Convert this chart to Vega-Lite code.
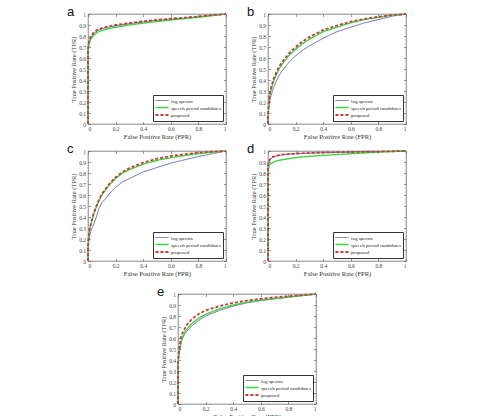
{
  "$schema": "https://vega.github.io/schema/vega-lite/v6.json",
  "padding": {"left": 66, "top": 6, "right": 0, "bottom": 0},
  "background": "white",
  "data": {"values": [
    {"panel":"a","series":"log spectra","fpr":0,"tpr":0},{"panel":"a","series":"log spectra","fpr":0,"tpr":0.66},{"panel":"a","series":"log spectra","fpr":0.004,"tpr":0.72},{"panel":"a","series":"log spectra","fpr":0.01,"tpr":0.755},{"panel":"a","series":"log spectra","fpr":0.02,"tpr":0.785},{"panel":"a","series":"log spectra","fpr":0.04,"tpr":0.82},{"panel":"a","series":"log spectra","fpr":0.07,"tpr":0.85},{"panel":"a","series":"log spectra","fpr":0.1,"tpr":0.865},{"panel":"a","series":"log spectra","fpr":0.15,"tpr":0.88},{"panel":"a","series":"log spectra","fpr":0.2,"tpr":0.893},{"panel":"a","series":"log spectra","fpr":0.3,"tpr":0.912},{"panel":"a","series":"log spectra","fpr":0.4,"tpr":0.928},{"panel":"a","series":"log spectra","fpr":0.5,"tpr":0.942},{"panel":"a","series":"log spectra","fpr":0.6,"tpr":0.953},{"panel":"a","series":"log spectra","fpr":0.7,"tpr":0.963},{"panel":"a","series":"log spectra","fpr":0.8,"tpr":0.975},{"panel":"a","series":"log spectra","fpr":0.9,"tpr":0.988},{"panel":"a","series":"log spectra","fpr":1,"tpr":1},
    {"panel":"a","series":"speech period candidates","fpr":0,"tpr":0},{"panel":"a","series":"speech period candidates","fpr":0,"tpr":0.64},{"panel":"a","series":"speech period candidates","fpr":0.004,"tpr":0.7},{"panel":"a","series":"speech period candidates","fpr":0.01,"tpr":0.74},{"panel":"a","series":"speech period candidates","fpr":0.02,"tpr":0.77},{"panel":"a","series":"speech period candidates","fpr":0.04,"tpr":0.805},{"panel":"a","series":"speech period candidates","fpr":0.07,"tpr":0.835},{"panel":"a","series":"speech period candidates","fpr":0.1,"tpr":0.85},{"panel":"a","series":"speech period candidates","fpr":0.15,"tpr":0.868},{"panel":"a","series":"speech period candidates","fpr":0.2,"tpr":0.88},{"panel":"a","series":"speech period candidates","fpr":0.3,"tpr":0.9},{"panel":"a","series":"speech period candidates","fpr":0.4,"tpr":0.917},{"panel":"a","series":"speech period candidates","fpr":0.5,"tpr":0.932},{"panel":"a","series":"speech period candidates","fpr":0.6,"tpr":0.945},{"panel":"a","series":"speech period candidates","fpr":0.7,"tpr":0.958},{"panel":"a","series":"speech period candidates","fpr":0.8,"tpr":0.97},{"panel":"a","series":"speech period candidates","fpr":0.9,"tpr":0.985},{"panel":"a","series":"speech period candidates","fpr":1,"tpr":1},
    {"panel":"a","series":"proposed","fpr":0,"tpr":0},{"panel":"a","series":"proposed","fpr":0,"tpr":0.67},{"panel":"a","series":"proposed","fpr":0.004,"tpr":0.73},{"panel":"a","series":"proposed","fpr":0.01,"tpr":0.765},{"panel":"a","series":"proposed","fpr":0.02,"tpr":0.795},{"panel":"a","series":"proposed","fpr":0.04,"tpr":0.83},{"panel":"a","series":"proposed","fpr":0.07,"tpr":0.858},{"panel":"a","series":"proposed","fpr":0.1,"tpr":0.872},{"panel":"a","series":"proposed","fpr":0.15,"tpr":0.888},{"panel":"a","series":"proposed","fpr":0.2,"tpr":0.9},{"panel":"a","series":"proposed","fpr":0.3,"tpr":0.918},{"panel":"a","series":"proposed","fpr":0.4,"tpr":0.933},{"panel":"a","series":"proposed","fpr":0.5,"tpr":0.946},{"panel":"a","series":"proposed","fpr":0.6,"tpr":0.957},{"panel":"a","series":"proposed","fpr":0.7,"tpr":0.967},{"panel":"a","series":"proposed","fpr":0.8,"tpr":0.978},{"panel":"a","series":"proposed","fpr":0.9,"tpr":0.99},{"panel":"a","series":"proposed","fpr":1,"tpr":1},

    {"panel":"b","series":"log spectra","fpr":0,"tpr":0},{"panel":"b","series":"log spectra","fpr":0,"tpr":0.05},{"panel":"b","series":"log spectra","fpr":0.005,"tpr":0.14},{"panel":"b","series":"log spectra","fpr":0.01,"tpr":0.19},{"panel":"b","series":"log spectra","fpr":0.02,"tpr":0.25},{"panel":"b","series":"log spectra","fpr":0.04,"tpr":0.33},{"panel":"b","series":"log spectra","fpr":0.06,"tpr":0.39},{"panel":"b","series":"log spectra","fpr":0.08,"tpr":0.44},{"panel":"b","series":"log spectra","fpr":0.1,"tpr":0.48},{"panel":"b","series":"log spectra","fpr":0.15,"tpr":0.56},{"panel":"b","series":"log spectra","fpr":0.2,"tpr":0.62},{"panel":"b","series":"log spectra","fpr":0.25,"tpr":0.67},{"panel":"b","series":"log spectra","fpr":0.3,"tpr":0.71},{"panel":"b","series":"log spectra","fpr":0.4,"tpr":0.78},{"panel":"b","series":"log spectra","fpr":0.5,"tpr":0.84},{"panel":"b","series":"log spectra","fpr":0.6,"tpr":0.88},{"panel":"b","series":"log spectra","fpr":0.7,"tpr":0.92},{"panel":"b","series":"log spectra","fpr":0.8,"tpr":0.95},{"panel":"b","series":"log spectra","fpr":0.9,"tpr":0.98},{"panel":"b","series":"log spectra","fpr":1,"tpr":1},
    {"panel":"b","series":"speech period candidates","fpr":0,"tpr":0},{"panel":"b","series":"speech period candidates","fpr":0,"tpr":0.06},{"panel":"b","series":"speech period candidates","fpr":0.005,"tpr":0.17},{"panel":"b","series":"speech period candidates","fpr":0.01,"tpr":0.23},{"panel":"b","series":"speech period candidates","fpr":0.02,"tpr":0.3},{"panel":"b","series":"speech period candidates","fpr":0.04,"tpr":0.39},{"panel":"b","series":"speech period candidates","fpr":0.06,"tpr":0.45},{"panel":"b","series":"speech period candidates","fpr":0.08,"tpr":0.5},{"panel":"b","series":"speech period candidates","fpr":0.1,"tpr":0.54},{"panel":"b","series":"speech period candidates","fpr":0.15,"tpr":0.62},{"panel":"b","series":"speech period candidates","fpr":0.2,"tpr":0.68},{"panel":"b","series":"speech period candidates","fpr":0.25,"tpr":0.73},{"panel":"b","series":"speech period candidates","fpr":0.3,"tpr":0.77},{"panel":"b","series":"speech period candidates","fpr":0.4,"tpr":0.84},{"panel":"b","series":"speech period candidates","fpr":0.5,"tpr":0.88},{"panel":"b","series":"speech period candidates","fpr":0.6,"tpr":0.92},{"panel":"b","series":"speech period candidates","fpr":0.7,"tpr":0.95},{"panel":"b","series":"speech period candidates","fpr":0.8,"tpr":0.97},{"panel":"b","series":"speech period candidates","fpr":0.9,"tpr":0.99},{"panel":"b","series":"speech period candidates","fpr":1,"tpr":1},
    {"panel":"b","series":"proposed","fpr":0,"tpr":0},{"panel":"b","series":"proposed","fpr":0,"tpr":0.07},{"panel":"b","series":"proposed","fpr":0.005,"tpr":0.19},{"panel":"b","series":"proposed","fpr":0.01,"tpr":0.25},{"panel":"b","series":"proposed","fpr":0.02,"tpr":0.32},{"panel":"b","series":"proposed","fpr":0.04,"tpr":0.41},{"panel":"b","series":"proposed","fpr":0.06,"tpr":0.47},{"panel":"b","series":"proposed","fpr":0.08,"tpr":0.52},{"panel":"b","series":"proposed","fpr":0.1,"tpr":0.56},{"panel":"b","series":"proposed","fpr":0.15,"tpr":0.64},{"panel":"b","series":"proposed","fpr":0.2,"tpr":0.7},{"panel":"b","series":"proposed","fpr":0.25,"tpr":0.75},{"panel":"b","series":"proposed","fpr":0.3,"tpr":0.79},{"panel":"b","series":"proposed","fpr":0.4,"tpr":0.855},{"panel":"b","series":"proposed","fpr":0.5,"tpr":0.895},{"panel":"b","series":"proposed","fpr":0.6,"tpr":0.93},{"panel":"b","series":"proposed","fpr":0.7,"tpr":0.955},{"panel":"b","series":"proposed","fpr":0.8,"tpr":0.975},{"panel":"b","series":"proposed","fpr":0.9,"tpr":0.99},{"panel":"b","series":"proposed","fpr":1,"tpr":1},

    {"panel":"c","series":"log spectra","fpr":0,"tpr":0},{"panel":"c","series":"log spectra","fpr":0,"tpr":0.1},{"panel":"c","series":"log spectra","fpr":0.005,"tpr":0.18},{"panel":"c","series":"log spectra","fpr":0.01,"tpr":0.22},{"panel":"c","series":"log spectra","fpr":0.02,"tpr":0.27},{"panel":"c","series":"log spectra","fpr":0.04,"tpr":0.33},{"panel":"c","series":"log spectra","fpr":0.06,"tpr":0.4},{"panel":"c","series":"log spectra","fpr":0.08,"tpr":0.48},{"panel":"c","series":"log spectra","fpr":0.1,"tpr":0.53},{"panel":"c","series":"log spectra","fpr":0.13,"tpr":0.57},{"panel":"c","series":"log spectra","fpr":0.16,"tpr":0.62},{"panel":"c","series":"log spectra","fpr":0.2,"tpr":0.67},{"panel":"c","series":"log spectra","fpr":0.25,"tpr":0.72},{"panel":"c","series":"log spectra","fpr":0.3,"tpr":0.75},{"panel":"c","series":"log spectra","fpr":0.4,"tpr":0.81},{"panel":"c","series":"log spectra","fpr":0.5,"tpr":0.85},{"panel":"c","series":"log spectra","fpr":0.6,"tpr":0.89},{"panel":"c","series":"log spectra","fpr":0.7,"tpr":0.92},{"panel":"c","series":"log spectra","fpr":0.8,"tpr":0.95},{"panel":"c","series":"log spectra","fpr":0.9,"tpr":0.975},{"panel":"c","series":"log spectra","fpr":1,"tpr":1},
    {"panel":"c","series":"speech period candidates","fpr":0,"tpr":0},{"panel":"c","series":"speech period candidates","fpr":0,"tpr":0.12},{"panel":"c","series":"speech period candidates","fpr":0.005,"tpr":0.22},{"panel":"c","series":"speech period candidates","fpr":0.01,"tpr":0.27},{"panel":"c","series":"speech period candidates","fpr":0.02,"tpr":0.33},{"panel":"c","series":"speech period candidates","fpr":0.04,"tpr":0.42},{"panel":"c","series":"speech period candidates","fpr":0.06,"tpr":0.49},{"panel":"c","series":"speech period candidates","fpr":0.08,"tpr":0.55},{"panel":"c","series":"speech period candidates","fpr":0.1,"tpr":0.6},{"panel":"c","series":"speech period candidates","fpr":0.13,"tpr":0.65},{"panel":"c","series":"speech period candidates","fpr":0.16,"tpr":0.7},{"panel":"c","series":"speech period candidates","fpr":0.2,"tpr":0.75},{"panel":"c","series":"speech period candidates","fpr":0.25,"tpr":0.8},{"panel":"c","series":"speech period candidates","fpr":0.3,"tpr":0.83},{"panel":"c","series":"speech period candidates","fpr":0.4,"tpr":0.88},{"panel":"c","series":"speech period candidates","fpr":0.5,"tpr":0.915},{"panel":"c","series":"speech period candidates","fpr":0.6,"tpr":0.94},{"panel":"c","series":"speech period candidates","fpr":0.7,"tpr":0.96},{"panel":"c","series":"speech period candidates","fpr":0.8,"tpr":0.975},{"panel":"c","series":"speech period candidates","fpr":0.9,"tpr":0.99},{"panel":"c","series":"speech period candidates","fpr":1,"tpr":1},
    {"panel":"c","series":"proposed","fpr":0,"tpr":0},{"panel":"c","series":"proposed","fpr":0,"tpr":0.13},{"panel":"c","series":"proposed","fpr":0.005,"tpr":0.23},{"panel":"c","series":"proposed","fpr":0.01,"tpr":0.28},{"panel":"c","series":"proposed","fpr":0.02,"tpr":0.34},{"panel":"c","series":"proposed","fpr":0.04,"tpr":0.43},{"panel":"c","series":"proposed","fpr":0.06,"tpr":0.5},{"panel":"c","series":"proposed","fpr":0.08,"tpr":0.56},{"panel":"c","series":"proposed","fpr":0.1,"tpr":0.61},{"panel":"c","series":"proposed","fpr":0.13,"tpr":0.66},{"panel":"c","series":"proposed","fpr":0.16,"tpr":0.71},{"panel":"c","series":"proposed","fpr":0.2,"tpr":0.76},{"panel":"c","series":"proposed","fpr":0.25,"tpr":0.81},{"panel":"c","series":"proposed","fpr":0.3,"tpr":0.845},{"panel":"c","series":"proposed","fpr":0.4,"tpr":0.895},{"panel":"c","series":"proposed","fpr":0.5,"tpr":0.93},{"panel":"c","series":"proposed","fpr":0.6,"tpr":0.955},{"panel":"c","series":"proposed","fpr":0.7,"tpr":0.97},{"panel":"c","series":"proposed","fpr":0.8,"tpr":0.985},{"panel":"c","series":"proposed","fpr":0.9,"tpr":0.995},{"panel":"c","series":"proposed","fpr":1,"tpr":1},

    {"panel":"d","series":"log spectra","fpr":0,"tpr":0},{"panel":"d","series":"log spectra","fpr":0,"tpr":0.85},{"panel":"d","series":"log spectra","fpr":0.003,"tpr":0.88},{"panel":"d","series":"log spectra","fpr":0.01,"tpr":0.91},{"panel":"d","series":"log spectra","fpr":0.02,"tpr":0.93},{"panel":"d","series":"log spectra","fpr":0.04,"tpr":0.945},{"panel":"d","series":"log spectra","fpr":0.07,"tpr":0.957},{"panel":"d","series":"log spectra","fpr":0.1,"tpr":0.965},{"panel":"d","series":"log spectra","fpr":0.2,"tpr":0.975},{"panel":"d","series":"log spectra","fpr":0.3,"tpr":0.98},{"panel":"d","series":"log spectra","fpr":0.4,"tpr":0.985},{"panel":"d","series":"log spectra","fpr":0.6,"tpr":0.99},{"panel":"d","series":"log spectra","fpr":0.8,"tpr":0.995},{"panel":"d","series":"log spectra","fpr":1,"tpr":1},
    {"panel":"d","series":"speech period candidates","fpr":0,"tpr":0},{"panel":"d","series":"speech period candidates","fpr":0,"tpr":0.8},{"panel":"d","series":"speech period candidates","fpr":0.003,"tpr":0.84},{"panel":"d","series":"speech period candidates","fpr":0.01,"tpr":0.87},{"panel":"d","series":"speech period candidates","fpr":0.02,"tpr":0.885},{"panel":"d","series":"speech period candidates","fpr":0.04,"tpr":0.9},{"panel":"d","series":"speech period candidates","fpr":0.07,"tpr":0.912},{"panel":"d","series":"speech period candidates","fpr":0.1,"tpr":0.92},{"panel":"d","series":"speech period candidates","fpr":0.2,"tpr":0.94},{"panel":"d","series":"speech period candidates","fpr":0.3,"tpr":0.952},{"panel":"d","series":"speech period candidates","fpr":0.4,"tpr":0.96},{"panel":"d","series":"speech period candidates","fpr":0.6,"tpr":0.975},{"panel":"d","series":"speech period candidates","fpr":0.8,"tpr":0.99},{"panel":"d","series":"speech period candidates","fpr":1,"tpr":1},
    {"panel":"d","series":"proposed","fpr":0,"tpr":0},{"panel":"d","series":"proposed","fpr":0,"tpr":0.86},{"panel":"d","series":"proposed","fpr":0.003,"tpr":0.89},{"panel":"d","series":"proposed","fpr":0.01,"tpr":0.915},{"panel":"d","series":"proposed","fpr":0.02,"tpr":0.935},{"panel":"d","series":"proposed","fpr":0.04,"tpr":0.95},{"panel":"d","series":"proposed","fpr":0.07,"tpr":0.96},{"panel":"d","series":"proposed","fpr":0.1,"tpr":0.967},{"panel":"d","series":"proposed","fpr":0.2,"tpr":0.977},{"panel":"d","series":"proposed","fpr":0.3,"tpr":0.982},{"panel":"d","series":"proposed","fpr":0.4,"tpr":0.986},{"panel":"d","series":"proposed","fpr":0.6,"tpr":0.991},{"panel":"d","series":"proposed","fpr":0.8,"tpr":0.995},{"panel":"d","series":"proposed","fpr":1,"tpr":1},

    {"panel":"e","series":"log spectra","fpr":0,"tpr":0},{"panel":"e","series":"log spectra","fpr":0,"tpr":0.35},{"panel":"e","series":"log spectra","fpr":0.005,"tpr":0.42},{"panel":"e","series":"log spectra","fpr":0.01,"tpr":0.47},{"panel":"e","series":"log spectra","fpr":0.02,"tpr":0.54},{"panel":"e","series":"log spectra","fpr":0.03,"tpr":0.59},{"panel":"e","series":"log spectra","fpr":0.05,"tpr":0.64},{"panel":"e","series":"log spectra","fpr":0.07,"tpr":0.67},{"panel":"e","series":"log spectra","fpr":0.1,"tpr":0.71},{"panel":"e","series":"log spectra","fpr":0.15,"tpr":0.76},{"panel":"e","series":"log spectra","fpr":0.2,"tpr":0.8},{"panel":"e","series":"log spectra","fpr":0.3,"tpr":0.85},{"panel":"e","series":"log spectra","fpr":0.4,"tpr":0.89},{"panel":"e","series":"log spectra","fpr":0.5,"tpr":0.92},{"panel":"e","series":"log spectra","fpr":0.6,"tpr":0.94},{"panel":"e","series":"log spectra","fpr":0.7,"tpr":0.955},{"panel":"e","series":"log spectra","fpr":0.8,"tpr":0.97},{"panel":"e","series":"log spectra","fpr":0.9,"tpr":0.985},{"panel":"e","series":"log spectra","fpr":1,"tpr":1},
    {"panel":"e","series":"speech period candidates","fpr":0,"tpr":0},{"panel":"e","series":"speech period candidates","fpr":0,"tpr":0.36},{"panel":"e","series":"speech period candidates","fpr":0.005,"tpr":0.44},{"panel":"e","series":"speech period candidates","fpr":0.01,"tpr":0.49},{"panel":"e","series":"speech period candidates","fpr":0.02,"tpr":0.56},{"panel":"e","series":"speech period candidates","fpr":0.03,"tpr":0.6},{"panel":"e","series":"speech period candidates","fpr":0.05,"tpr":0.655},{"panel":"e","series":"speech period candidates","fpr":0.07,"tpr":0.69},{"panel":"e","series":"speech period candidates","fpr":0.1,"tpr":0.73},{"panel":"e","series":"speech period candidates","fpr":0.15,"tpr":0.78},{"panel":"e","series":"speech period candidates","fpr":0.2,"tpr":0.815},{"panel":"e","series":"speech period candidates","fpr":0.3,"tpr":0.865},{"panel":"e","series":"speech period candidates","fpr":0.4,"tpr":0.9},{"panel":"e","series":"speech period candidates","fpr":0.5,"tpr":0.925},{"panel":"e","series":"speech period candidates","fpr":0.6,"tpr":0.945},{"panel":"e","series":"speech period candidates","fpr":0.7,"tpr":0.96},{"panel":"e","series":"speech period candidates","fpr":0.8,"tpr":0.972},{"panel":"e","series":"speech period candidates","fpr":0.9,"tpr":0.986},{"panel":"e","series":"speech period candidates","fpr":1,"tpr":1},
    {"panel":"e","series":"proposed","fpr":0,"tpr":0},{"panel":"e","series":"proposed","fpr":0,"tpr":0.38},{"panel":"e","series":"proposed","fpr":0.005,"tpr":0.46},{"panel":"e","series":"proposed","fpr":0.01,"tpr":0.52},{"panel":"e","series":"proposed","fpr":0.02,"tpr":0.6},{"panel":"e","series":"proposed","fpr":0.03,"tpr":0.64},{"panel":"e","series":"proposed","fpr":0.05,"tpr":0.69},{"panel":"e","series":"proposed","fpr":0.07,"tpr":0.73},{"panel":"e","series":"proposed","fpr":0.1,"tpr":0.77},{"panel":"e","series":"proposed","fpr":0.15,"tpr":0.82},{"panel":"e","series":"proposed","fpr":0.2,"tpr":0.85},{"panel":"e","series":"proposed","fpr":0.3,"tpr":0.89},{"panel":"e","series":"proposed","fpr":0.4,"tpr":0.92},{"panel":"e","series":"proposed","fpr":0.5,"tpr":0.94},{"panel":"e","series":"proposed","fpr":0.6,"tpr":0.957},{"panel":"e","series":"proposed","fpr":0.7,"tpr":0.97},{"panel":"e","series":"proposed","fpr":0.8,"tpr":0.98},{"panel":"e","series":"proposed","fpr":0.9,"tpr":0.99},{"panel":"e","series":"proposed","fpr":1,"tpr":1}
  ]},
  "vconcat": [
    {
      "vconcat": [
        {
          "hconcat": [
            {
              "width": 138, "height": 110,
              "title": {"text": "a"},
              "transform": [{"filter": "datum.panel === 'a'"}],
              "layer": [
                {"mark": {"type": "line"}, "encoding": {
                  "x": {"field": "fpr", "type": "quantitative", "scale": {"domain": [0, 1]}, "axis": {"orient": "bottom", "title": "False Positive Rate (FPR)", "values": [0, 0.2, 0.4, 0.6, 0.8, 1], "format": "~g"}},
                  "y": {"field": "tpr", "type": "quantitative", "scale": {"domain": [0, 1]}, "axis": {"orient": "left", "title": "True Positive Rate (TPR)", "values": [0, 0.1, 0.2, 0.3, 0.4, 0.5, 0.6, 0.7, 0.8, 0.9, 1], "format": "~g"}},
                  "color": {"field": "series", "type": "nominal", "scale": {"domain": ["log spectra", "speech period candidates", "proposed"], "range": ["#5a5aad", "#3fd23f", "#c43b3b"]}, "legend": {"title": null}},
                  "strokeDash": {"field": "series", "type": "nominal", "scale": {"domain": ["log spectra", "speech period candidates", "proposed"], "range": [[1, 0], [1, 0], [3, 2]]}, "legend": {"title": null}},
                  "strokeWidth": {"field": "series", "type": "nominal", "scale": {"domain": ["log spectra", "speech period candidates", "proposed"], "range": [0.9, 1.8, 1.3]}, "legend": {"title": null}}
                }},
                {"mark": {"type": "point", "opacity": 0}, "encoding": {
                  "x": {"field": "fpr", "type": "quantitative", "scale": {"domain": [0, 1]}, "axis": {"orient": "top", "title": null, "values": [0, 0.2, 0.4, 0.6, 0.8, 1]}},
                  "y": {"field": "tpr", "type": "quantitative", "scale": {"domain": [0, 1]}, "axis": {"orient": "right", "title": null, "values": [0, 0.1, 0.2, 0.3, 0.4, 0.5, 0.6, 0.7, 0.8, 0.9, 1]}}
                }}
              ],
              "resolve": {"axis": {"x": "independent", "y": "independent"}}
            },
            {
              "width": 138, "height": 110,
              "title": {"text": "b"},
              "transform": [{"filter": "datum.panel === 'b'"}],
              "layer": [
                {"mark": {"type": "line"}, "encoding": {
                  "x": {"field": "fpr", "type": "quantitative", "scale": {"domain": [0, 1]}, "axis": {"orient": "bottom", "title": "False Positive Rate (FPR)", "values": [0, 0.2, 0.4, 0.6, 0.8, 1], "format": "~g"}},
                  "y": {"field": "tpr", "type": "quantitative", "scale": {"domain": [0, 1]}, "axis": {"orient": "left", "title": "True Positive Rate (TPR)", "values": [0, 0.1, 0.2, 0.3, 0.4, 0.5, 0.6, 0.7, 0.8, 0.9, 1], "format": "~g"}},
                  "color": {"field": "series", "type": "nominal", "scale": {"domain": ["log spectra", "speech period candidates", "proposed"], "range": ["#5a5aad", "#3fd23f", "#c43b3b"]}, "legend": {"title": null}},
                  "strokeDash": {"field": "series", "type": "nominal", "scale": {"domain": ["log spectra", "speech period candidates", "proposed"], "range": [[1, 0], [1, 0], [3, 2]]}, "legend": {"title": null}},
                  "strokeWidth": {"field": "series", "type": "nominal", "scale": {"domain": ["log spectra", "speech period candidates", "proposed"], "range": [0.9, 1.8, 1.3]}, "legend": {"title": null}}
                }},
                {"mark": {"type": "point", "opacity": 0}, "encoding": {
                  "x": {"field": "fpr", "type": "quantitative", "scale": {"domain": [0, 1]}, "axis": {"orient": "top", "title": null, "values": [0, 0.2, 0.4, 0.6, 0.8, 1]}},
                  "y": {"field": "tpr", "type": "quantitative", "scale": {"domain": [0, 1]}, "axis": {"orient": "right", "title": null, "values": [0, 0.1, 0.2, 0.3, 0.4, 0.5, 0.6, 0.7, 0.8, 0.9, 1]}}
                }}
              ],
              "resolve": {"axis": {"x": "independent", "y": "independent"}}
            }
          ],
          "resolve": {"legend": {"color": "independent", "strokeDash": "independent", "strokeWidth": "independent"}}
        },
        {
          "hconcat": [
            {
              "width": 138, "height": 110,
              "title": {"text": "c"},
              "transform": [{"filter": "datum.panel === 'c'"}],
              "layer": [
                {"mark": {"type": "line"}, "encoding": {
                  "x": {"field": "fpr", "type": "quantitative", "scale": {"domain": [0, 1]}, "axis": {"orient": "bottom", "title": "False Positive Rate (FPR)", "values": [0, 0.2, 0.4, 0.6, 0.8, 1], "format": "~g"}},
                  "y": {"field": "tpr", "type": "quantitative", "scale": {"domain": [0, 1]}, "axis": {"orient": "left", "title": "True Positive Rate (TPR)", "values": [0, 0.1, 0.2, 0.3, 0.4, 0.5, 0.6, 0.7, 0.8, 0.9, 1], "format": "~g"}},
                  "color": {"field": "series", "type": "nominal", "scale": {"domain": ["log spectra", "speech period candidates", "proposed"], "range": ["#5a5aad", "#3fd23f", "#c43b3b"]}, "legend": {"title": null}},
                  "strokeDash": {"field": "series", "type": "nominal", "scale": {"domain": ["log spectra", "speech period candidates", "proposed"], "range": [[1, 0], [1, 0], [3, 2]]}, "legend": {"title": null}},
                  "strokeWidth": {"field": "series", "type": "nominal", "scale": {"domain": ["log spectra", "speech period candidates", "proposed"], "range": [0.9, 1.8, 1.3]}, "legend": {"title": null}}
                }},
                {"mark": {"type": "point", "opacity": 0}, "encoding": {
                  "x": {"field": "fpr", "type": "quantitative", "scale": {"domain": [0, 1]}, "axis": {"orient": "top", "title": null, "values": [0, 0.2, 0.4, 0.6, 0.8, 1]}},
                  "y": {"field": "tpr", "type": "quantitative", "scale": {"domain": [0, 1]}, "axis": {"orient": "right", "title": null, "values": [0, 0.1, 0.2, 0.3, 0.4, 0.5, 0.6, 0.7, 0.8, 0.9, 1]}}
                }}
              ],
              "resolve": {"axis": {"x": "independent", "y": "independent"}}
            },
            {
              "width": 138, "height": 110,
              "title": {"text": "d"},
              "transform": [{"filter": "datum.panel === 'd'"}],
              "layer": [
                {"mark": {"type": "line"}, "encoding": {
                  "x": {"field": "fpr", "type": "quantitative", "scale": {"domain": [0, 1]}, "axis": {"orient": "bottom", "title": "False Positive Rate (FPR)", "values": [0, 0.2, 0.4, 0.6, 0.8, 1], "format": "~g"}},
                  "y": {"field": "tpr", "type": "quantitative", "scale": {"domain": [0, 1]}, "axis": {"orient": "left", "title": "True Positive Rate (TPR)", "values": [0, 0.1, 0.2, 0.3, 0.4, 0.5, 0.6, 0.7, 0.8, 0.9, 1], "format": "~g"}},
                  "color": {"field": "series", "type": "nominal", "scale": {"domain": ["log spectra", "speech period candidates", "proposed"], "range": ["#5a5aad", "#3fd23f", "#c43b3b"]}, "legend": {"title": null}},
                  "strokeDash": {"field": "series", "type": "nominal", "scale": {"domain": ["log spectra", "speech period candidates", "proposed"], "range": [[1, 0], [1, 0], [3, 2]]}, "legend": {"title": null}},
                  "strokeWidth": {"field": "series", "type": "nominal", "scale": {"domain": ["log spectra", "speech period candidates", "proposed"], "range": [0.9, 1.8, 1.3]}, "legend": {"title": null}}
                }},
                {"mark": {"type": "point", "opacity": 0}, "encoding": {
                  "x": {"field": "fpr", "type": "quantitative", "scale": {"domain": [0, 1]}, "axis": {"orient": "top", "title": null, "values": [0, 0.2, 0.4, 0.6, 0.8, 1]}},
                  "y": {"field": "tpr", "type": "quantitative", "scale": {"domain": [0, 1]}, "axis": {"orient": "right", "title": null, "values": [0, 0.1, 0.2, 0.3, 0.4, 0.5, 0.6, 0.7, 0.8, 0.9, 1]}}
                }}
              ],
              "resolve": {"axis": {"x": "independent", "y": "independent"}}
            }
          ],
          "resolve": {"legend": {"color": "independent", "strokeDash": "independent", "strokeWidth": "independent"}}
        }
      ],
      "spacing": 3,
      "resolve": {"legend": {"color": "independent", "strokeDash": "independent", "strokeWidth": "independent"}}
    },
    {
      "width": 138, "height": 110,
      "title": {"text": "e"},
      "transform": [{"filter": "datum.panel === 'e'"}],
      "layer": [
        {"mark": {"type": "line"}, "encoding": {
          "x": {"field": "fpr", "type": "quantitative", "scale": {"domain": [0, 1]}, "axis": {"orient": "bottom", "title": "False Positive Rate (FPR)", "values": [0, 0.2, 0.4, 0.6, 0.8, 1], "format": "~g"}},
          "y": {"field": "tpr", "type": "quantitative", "scale": {"domain": [0, 1]}, "axis": {"orient": "left", "title": "True Positive Rate (TPR)", "values": [0, 0.1, 0.2, 0.3, 0.4, 0.5, 0.6, 0.7, 0.8, 0.9, 1], "format": "~g"}},
          "color": {"field": "series", "type": "nominal", "scale": {"domain": ["log spectra", "speech period candidates", "proposed"], "range": ["#5a5aad", "#3fd23f", "#c43b3b"]}, "legend": {"title": null}},
          "strokeDash": {"field": "series", "type": "nominal", "scale": {"domain": ["log spectra", "speech period candidates", "proposed"], "range": [[1, 0], [1, 0], [3, 2]]}, "legend": {"title": null}},
          "strokeWidth": {"field": "series", "type": "nominal", "scale": {"domain": ["log spectra", "speech period candidates", "proposed"], "range": [0.9, 1.8, 1.3]}, "legend": {"title": null}}
        }},
        {"mark": {"type": "point", "opacity": 0}, "encoding": {
          "x": {"field": "fpr", "type": "quantitative", "scale": {"domain": [0, 1]}, "axis": {"orient": "top", "title": null, "values": [0, 0.2, 0.4, 0.6, 0.8, 1]}},
          "y": {"field": "tpr", "type": "quantitative", "scale": {"domain": [0, 1]}, "axis": {"orient": "right", "title": null, "values": [0, 0.1, 0.2, 0.3, 0.4, 0.5, 0.6, 0.7, 0.8, 0.9, 1]}}
        }}
      ],
      "resolve": {"axis": {"x": "independent", "y": "independent"}}
    }
  ],
  "spacing": 9,
  "center": true,
  "resolve": {"legend": {"color": "independent", "strokeDash": "independent", "strokeWidth": "independent"}},
  "config": {
    "view": {"stroke": "#555", "strokeWidth": 0.7},
    "concat": {"spacing": 16},
    "axis": {"grid": false, "domain": false, "labelFont": "Liberation Serif", "labelFontSize": 5.5, "labelColor": "#444", "tickColor": "#555", "tickSize": -2.5, "tickWidth": 0.6, "titleFont": "Liberation Serif", "titleFontSize": 6.5, "titleFontWeight": "normal", "titleColor": "#333"},
    "axisBottom": {"labelPadding": 5, "titlePadding": 1},
    "axisLeft": {"labelPadding": 5, "titlePadding": 2},
    "axisTop": {"labels": false},
    "axisRight": {"labels": false},
    "legend": {"orient": "bottom-right", "offset": 3, "padding": 2, "strokeColor": "#333", "fillColor": "white", "labelFont": "Liberation Serif", "labelFontSize": 5, "labelColor": "#222", "symbolType": "M-2.4,0L2.4,0", "symbolSize": 30, "symbolOffset": 3, "rowPadding": -2, "labelOffset": 5},
    "title": {"anchor": "start", "frame": "group", "orient": "top", "offset": 0, "dx": -21, "dy": 13, "baseline": "alphabetic", "font": "Liberation Sans", "fontSize": 13, "fontWeight": "normal", "color": "#111"}
  }
}
